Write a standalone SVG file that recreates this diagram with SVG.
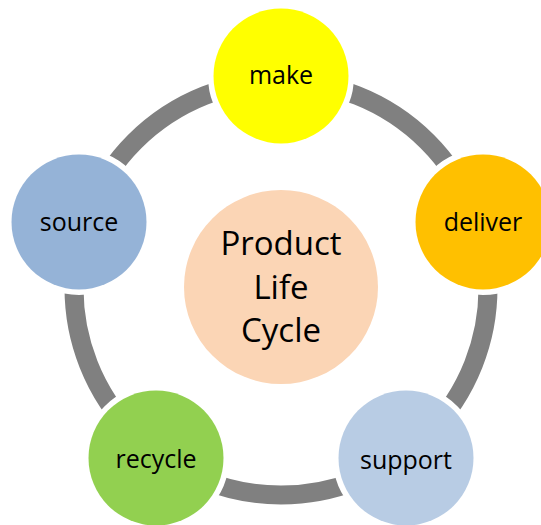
<svg xmlns="http://www.w3.org/2000/svg" width="541" height="525" viewBox="0 0 541 525">
<style>
.node{stroke:#ffffff;stroke-width:11;paint-order:stroke}
.lbl{font-family:"Open Sans","Liberation Sans",sans-serif;font-size:25px;fill:#000000;text-anchor:middle}
.big{font-family:"Open Sans","Liberation Sans",sans-serif;font-size:33px;fill:#000000;text-anchor:middle}
</style>
<rect width="541" height="525" fill="#ffffff"/>
<g id="connectors">
<circle cx="281" cy="288" r="207" fill="none" stroke="#808080" stroke-width="19"/>
</g>
<g id="center">
<circle cx="281" cy="287" r="97" fill="#FBD5B5"/>
<text class="big" x="281" y="255">Product</text>
<text class="big" x="281" y="299">Life</text>
<text class="big" x="281" y="342">Cycle</text>
</g>
<g id="make">
<circle class="node" cx="281" cy="76" r="67.5" fill="#FFFF00"/>
<text class="lbl" x="281" y="84">make</text>
</g>
<g id="deliver">
<circle class="node" cx="483" cy="222" r="67.5" fill="#FFC000"/>
<text class="lbl" x="483" y="231">deliver</text>
</g>
<g id="support">
<circle class="node" cx="406" cy="458" r="67.5" fill="#B8CCE4"/>
<text class="lbl" x="406" y="469">support</text>
</g>
<g id="recycle">
<circle class="node" cx="156" cy="458" r="67.5" fill="#92D050"/>
<text class="lbl" x="156" y="468">recycle</text>
</g>
<g id="source">
<circle class="node" cx="79" cy="222" r="67.5" fill="#95B3D7"/>
<text class="lbl" x="79" y="231">source</text>
</g>
</svg>
